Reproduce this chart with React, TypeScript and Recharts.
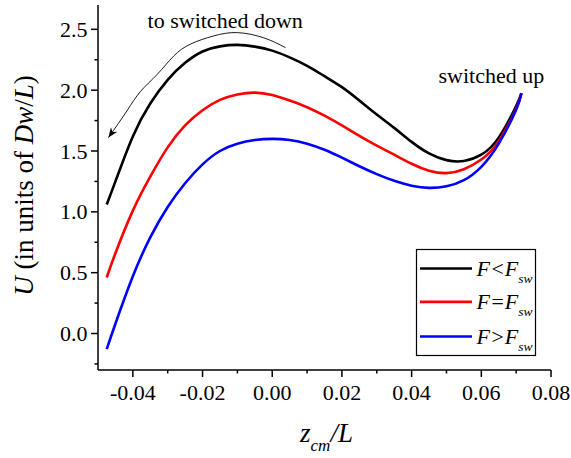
import React from 'react';
import { LineChart, Line, XAxis, YAxis, ReferenceDot } from 'recharts';

const zValues = [-0.0475, -0.045, -0.04, -0.035, -0.03, -0.025, -0.02, -0.015, -0.01, -0.005, 0, 0.005, 0.01, 0.015, 0.02, 0.025, 0.03, 0.035, 0.04, 0.045, 0.05, 0.055, 0.06, 0.065, 0.07, 0.0715];
const uBelow = [1.06, 1.25, 1.62, 1.89, 2.085, 2.225, 2.318, 2.36, 2.372, 2.358, 2.325, 2.27, 2.2, 2.115, 2.025, 1.915, 1.8, 1.69, 1.575, 1.48, 1.425, 1.418, 1.47, 1.61, 1.87, 1.975];
const uEqual = [0.46, 0.66, 1.01, 1.29, 1.53, 1.71, 1.835, 1.92, 1.965, 1.98, 1.96, 1.915, 1.86, 1.79, 1.71, 1.625, 1.545, 1.47, 1.395, 1.338, 1.318, 1.35, 1.43, 1.58, 1.85, 1.975];
const uAbove = [-0.128, 0.08, 0.47, 0.79, 1.04, 1.235, 1.39, 1.5, 1.56, 1.59, 1.6, 1.59, 1.56, 1.51, 1.445, 1.375, 1.31, 1.255, 1.215, 1.197, 1.21, 1.26, 1.37, 1.56, 1.84, 1.975];

const arrowZ = [0.0038, -0.0024, -0.01, -0.0168, -0.0235, -0.0283, -0.033, -0.0378, -0.0417, -0.047];
const arrowU = [2.35, 2.43, 2.473, 2.446, 2.378, 2.28, 2.13, 1.99, 1.83, 1.61];

const xTicks = [-0.04, -0.03, -0.02, -0.01, 0, 0.01, 0.02, 0.03, 0.04, 0.05, 0.06, 0.07, 0.08];
const yTicks = [-0.25, 0, 0.25, 0.5, 0.75, 1, 1.25, 1.5, 1.75, 2, 2.25, 2.5];

const seriesOps = ['<', '=', '>'];
const seriesColors = ['#000000', '#ff0000', '#0000ff'];
const annotations = ['to switched down', 'switched up'];

const data = zValues.map((z, i) => ({ z, below: uBelow[i], equal: uEqual[i], above: uAbove[i] }));
const arrowData = arrowZ.map((z, i) => ({ z, u: arrowU[i] }));

const FONT = 'Liberation Serif';
const isMajorX = (v: number) => Math.abs(Math.round(v * 100)) % 2 === 0;
const isMajorY = (v: number) => Math.abs(Math.round(v * 100)) % 50 === 0;
const fmtX = (v: number) => (Math.abs(v) < 1e-9 ? '0.00' : v.toFixed(2));
const fmtY = (v: number) => (Math.abs(v) < 1e-9 ? '0.0' : v.toFixed(1));

const BottomTick = (props: any) => {
  const { x, y, payload } = props;
  const v = payload.value;
  const major = isMajorX(v);
  return (
    <g>
      <line x1={x} x2={x} y1={y} y2={y + (major ? 7 : 3.5)} stroke="#000" strokeWidth={1.5} />
      {major && (
        <text x={x} y={y + 29.5} textAnchor="middle" fontSize={22} fontFamily={FONT} fill="#000">
          {fmtX(v)}
        </text>
      )}
    </g>
  );
};

const TopTick = (props: any) => {
  const { x, y, payload } = props;
  const major = isMajorX(payload.value);
  return <line x1={x} x2={x} y1={y} y2={y + (major ? 7 : 3.5)} stroke="#000" strokeWidth={1.5} />;
};

const LeftTick = (props: any) => {
  const { x, y, payload } = props;
  const v = payload.value;
  const major = isMajorY(v);
  return (
    <g>
      <line x1={x} x2={x - (major ? 7 : 3.5)} y1={y} y2={y} stroke="#000" strokeWidth={1.5} />
      {major && (
        <text x={x - 10.5} y={y + 7.5} textAnchor="end" fontSize={22} fontFamily={FONT} fill="#000">
          {fmtY(v)}
        </text>
      )}
    </g>
  );
};

const RightTick = (props: any) => {
  const { x, y, payload } = props;
  const major = isMajorY(payload.value);
  return <line x1={x} x2={x - (major ? 7 : 3.5)} y1={y} y2={y} stroke="#000" strokeWidth={1.5} />;
};

const makeNote = (text: string) => (props: any) => {
  const vb = props.viewBox || {};
  const cx = (vb.x ?? 0) + (vb.width ?? 0) / 2;
  const cy = (vb.y ?? 0) + (vb.height ?? 0) / 2;
  return (
    <text x={cx} y={cy + 7.8} textAnchor="middle" fontSize={22} fontFamily={FONT} fill="#000">
      {text}
    </text>
  );
};

const LegendBox = () => {
  const rows = [19, 52.4, 87];
  return (
    <g transform="translate(416.5, 249.5)">
      <rect x={0} y={0} width={119} height={106} fill="#fff" stroke="#000" strokeWidth={1.2} />
      {rows.map((ry, i) => (
        <g key={i}>
          <line x1={3.5} x2={55.5} y1={ry} y2={ry} stroke={seriesColors[i]} strokeWidth={2.6} />
          <text x={60} y={ry + 7.5} fontSize={22} fontStyle="italic" fontFamily={FONT} fill="#000">
            {'F' + seriesOps[i] + 'F'}
            <tspan fontSize={13.5} dy={6.7}>sw</tspan>
          </text>
        </g>
      ))}
    </g>
  );
};

const YTitle = (props: any) => {
  const vb = props.viewBox || {};
  const cy = (vb.y ?? 5) + (vb.height ?? 365) / 2;
  return (
    <text
      transform={`translate(33, ${cy - 2}) rotate(-90)`}
      textAnchor="middle"
      fontSize={27}
      fontFamily={FONT}
      fill="#000"
    >
      <tspan fontStyle="italic">U</tspan>
      <tspan> (in units of </tspan>
      <tspan fontStyle="italic">Dw</tspan>
      <tspan>/</tspan>
      <tspan fontStyle="italic">L</tspan>
      <tspan>)</tspan>
    </text>
  );
};

const XTitle = (props: any) => {
  const vb = props.viewBox || {};
  const cx = (vb.x ?? 98) + (vb.width ?? 453) / 2;
  return (
    <text x={cx + 2} y={442} textAnchor="middle" fontSize={27} fontFamily={FONT} fontStyle="italic" fill="#000">
      <tspan>z</tspan>
      <tspan fontSize={17} dy={9}>cm</tspan>
      <tspan dy={-9}>/L</tspan>
    </text>
  );
};

export default function App() {
  return (
    <div style={{ position: 'absolute', left: 0, top: 0, background: '#fff', fontFamily: FONT }}>
      <LineChart width={571} height={458} data={data} margin={{ top: 5, right: 20, left: 0, bottom: 0 }}>
        <defs>
          <marker id="arrowHead" markerUnits="userSpaceOnUse" markerWidth={12} markerHeight={10} refX={10} refY={4} orient="auto">
            <path d="M0,0 L10,4 L0,8 L3,4 Z" fill="#000" />
          </marker>
        </defs>
        <XAxis
          dataKey="z"
          type="number"
          domain={[-0.05, 0.08]}
          ticks={xTicks}
          interval={0}
          allowDataOverflow
          height={88}
          tickSize={0}
          tickMargin={0}
          tickLine={false}
          tick={<BottomTick />}
          axisLine={{ stroke: '#000', strokeWidth: 1.5 }}
          label={<XTitle />}
        />
        <XAxis
          xAxisId="t"
          orientation="top"
          dataKey="z"
          type="number"
          domain={[-0.05, 0.08]}
          ticks={xTicks}
          interval={0}
          allowDataOverflow
          height={0}
          tickSize={0}
          tickMargin={0}
          tickLine={false}
          tick={<TopTick />}
          axisLine={{ stroke: '#000', strokeWidth: 1.5 }}
        />
        <YAxis
          type="number"
          domain={[-0.3, 2.7]}
          ticks={yTicks}
          interval={0}
          allowDataOverflow
          width={98}
          tickSize={0}
          tickMargin={0}
          tickLine={false}
          tick={<LeftTick />}
          axisLine={{ stroke: '#000', strokeWidth: 1.5 }}
          label={<YTitle />}
        />
        <YAxis
          yAxisId="r"
          orientation="right"
          type="number"
          domain={[-0.3, 2.7]}
          ticks={yTicks}
          interval={0}
          allowDataOverflow
          width={0}
          tickSize={0}
          tickMargin={0}
          tickLine={false}
          tick={<RightTick />}
          axisLine={{ stroke: '#000', strokeWidth: 1.5 }}
        />
        <Line dataKey="below" type="natural" stroke={seriesColors[0]} strokeWidth={2.6} dot={false} isAnimationActive={false} />
        <Line dataKey="equal" type="natural" stroke={seriesColors[1]} strokeWidth={2.6} dot={false} isAnimationActive={false} />
        <Line dataKey="above" type="natural" stroke={seriesColors[2]} strokeWidth={2.6} dot={false} isAnimationActive={false} />
        <Line data={arrowData} dataKey="u" type="natural" stroke="#000" strokeWidth={0.9} dot={false} legendType="none" markerEnd="url(#arrowHead)" isAnimationActive={false} />
        <ReferenceDot x={-0.0135} y={2.573} r={0} fill="none" stroke="none" label={{ content: makeNote(annotations[0]) }} />
        <ReferenceDot x={0.0629} y={2.127} r={0} fill="none" stroke="none" label={{ content: makeNote(annotations[1]) }} />
        <LegendBox />
      </LineChart>
    </div>
  );
}
